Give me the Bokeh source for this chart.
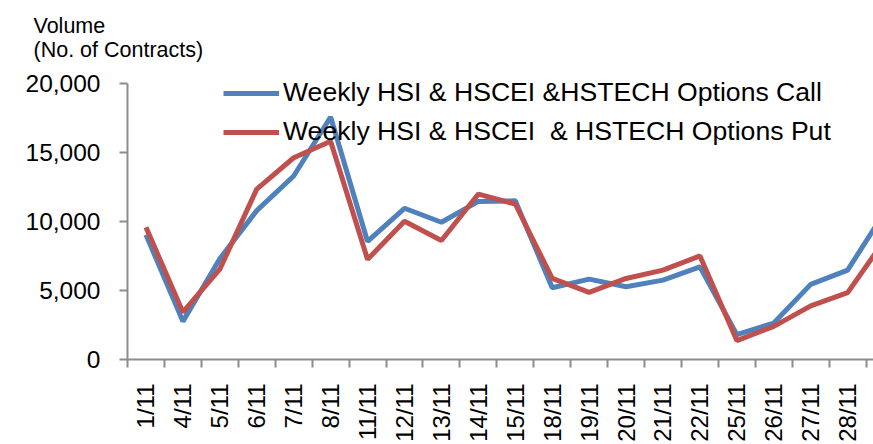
import math
from bokeh.plotting import figure
from bokeh.models import (Range1d, FixedTicker, NumeralTickFormatter,
                          Legend, LegendItem)
from bokeh.embed import file_html
from bokeh.resources import INLINE

dates = ["1/11", "4/11", "5/11", "6/11", "7/11", "8/11", "11/11", "12/11",
         "13/11", "14/11", "15/11", "18/11", "19/11", "20/11", "21/11",
         "22/11", "25/11", "26/11", "27/11", "28/11", "29/11"]
call_volume = [9030, 2760, 7300, 10780, 13290, 17560, 8550, 10950, 9940,
               11450, 11490, 5200, 5820, 5270, 5750, 6710, 1800, 2640, 5440,
               6470, 10670]
put_volume = [9580, 3430, 6540, 12340, 14610, 15800, 7250, 10010, 8620,
              11980, 11260, 5870, 4860, 5870, 6470, 7500, 1370, 2400, 3880,
              4840, 8650]
y_ticks = [0, 5000, 10000, 15000, 20000]
y_title = "Volume\n(No. of Contracts)"
call_label = "Weekly HSI & HSCEI &HSTECH Options Call"
put_label = "Weekly HSI & HSCEI  & HSTECH Options Put"

FONT = "Liberation Sans"
xs = [i + 0.5 for i in range(len(dates))]

p = figure(width=873, height=444, output_backend="svg", toolbar_location=None,
           x_range=Range1d(0, 20.2), y_range=Range1d(0, 21000),
           min_border_left=127, min_border_right=0, min_border_top=69,
           min_border_bottom=82)
p.outline_line_color = None
p.xgrid.visible = False
p.ygrid.visible = False
p.background_fill_color = "white"
p.border_fill_color = "white"

p.title.text = y_title
p.title.text_font = FONT
p.title.text_font_size = "21.5px"
p.title.text_font_style = "normal"
p.title.text_color = "black"
p.title.text_line_height = 1.0
p.title.align = "left"
p.title.offset = -94
p.title.standoff = 16

axis_color = "#8c8c8c"
# y axis
ya = p.yaxis[0]
ya.bounds = (0, 20000)
ya.ticker = FixedTicker(ticks=y_ticks)
ya.formatter = NumeralTickFormatter(format="0,0")
ya.axis_line_color = axis_color
ya.axis_line_width = 2
ya.major_tick_line_color = axis_color
ya.major_tick_line_width = 2
ya.major_tick_out = 8
ya.major_tick_in = 0
ya.minor_tick_line_color = None
ya.major_label_standoff = 19
ya.major_label_text_font = FONT
ya.major_label_text_font_size = "24.5px"
ya.major_label_text_color = "black"

# x axis
xa = p.xaxis[0]
xa.ticker = FixedTicker(ticks=xs[:20], minor_ticks=list(range(0, 21)))
xa.major_label_overrides = {x: d for x, d in zip(xs, dates)}
xa.major_label_orientation = math.pi / 2
xa.axis_line_color = axis_color
xa.axis_line_width = 2
xa.major_tick_line_color = None
xa.major_tick_out = 0
xa.major_tick_in = 0
xa.minor_tick_line_color = axis_color
xa.minor_tick_line_width = 2
xa.minor_tick_out = 8
xa.minor_tick_in = 0
xa.major_label_standoff = 16
xa.major_label_text_font = FONT
xa.major_label_text_font_size = "24px"
xa.major_label_text_color = "black"

r_call = p.line(xs, call_volume, line_color="#4F81BD", line_width=5)
r_put = p.line(xs, put_volume, line_color="#C0504D", line_width=5)

legend = Legend(items=[LegendItem(label=call_label, renderers=[r_call]),
                       LegendItem(label=put_label, renderers=[r_put])],
                location=(96, 212))
legend.border_line_color = None
legend.background_fill_alpha = 0
legend.margin = 0
legend.padding = 0
legend.glyph_width = 56
legend.glyph_height = 30
legend.label_height = 30
legend.spacing = 8
legend.label_standoff = 4
legend.label_text_font = FONT
legend.label_text_font_size = "26.6px"
legend.label_text_color = "black"
p.add_layout(legend)

open("out.html", "w").write(file_html(p, INLINE))
